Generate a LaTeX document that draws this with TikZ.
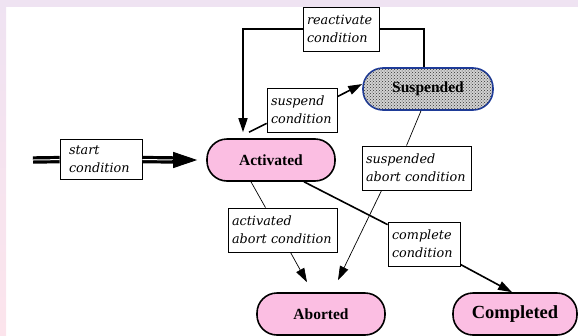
\documentclass[tikz,border=0pt]{standalone}
\usepackage{fontspec}
\setmainfont{Liberation Serif}
\newfontfamily\condfont{DejaVu Serif}
\usetikzlibrary{arrows.meta,patterns}
\definecolor{statepink}{RGB}{251,190,226}
\definecolor{suspblue}{RGB}{30,60,156}
\definecolor{bandtop}{RGB}{239,227,242}
\definecolor{bandbot}{RGB}{252,228,236}
\hyphenpenalty=10000

\begin{document}
\begin{tikzpicture}[x=1pt, y=-1pt,
    state/.style={draw, line width=1.6pt, rounded corners=20pt, fill=statepink,
        minimum height=42pt, inner sep=0pt, font=\bfseries\fontsize{15.5}{18}\selectfont},
    cond/.style={draw, fill=white, line width=0.8pt, align=left, inner xsep=4pt,
        inner ysep=3pt, minimum height=44pt,
        font=\condfont\itshape\fontsize{12.8}{18}\selectfont},
    heavy/.style={line width=1.6pt},
    light/.style={line width=0.7pt},
    tip/.style={-{Triangle[length=14pt,width=9pt]}},
    dbl/.style={double, line width=3.2pt, double distance=1pt}]
    \useasboundingbox (0,0) rectangle (578,335);
    \fill[bandtop] (0,0) rectangle (578,7);
    \shade[top color=bandtop, bottom color=bandbot] (0,0) rectangle (6,335);

    % states
    \node[state, minimum width=128pt] (act)  at (271,160) {Activated};
    \node[state, minimum width=130pt, draw=suspblue, fill=gray!35,
          postaction={pattern=crosshatch dots, pattern color=black!80}] (susp) at (428,89) {Suspended};
    \node[state, minimum width=128pt] (abo)  at (321,314) {Aborted};
    \node[state, minimum width=124pt, font=\bfseries\fontsize{18.5}{20}\selectfont] (comp) at (515,314) {Completed};

    % conditions
    \node[cond, text width=68pt] (react)    at (341,29)    {reactivate\\condition};
    \node[cond, text width=62pt] (suspcond) at (302,110)   {suspend\\condition};
    \node[cond, text width=64pt, inner xsep=9pt, minimum height=40pt] (startcond) at (101,159) {start\\condition};
    \node[cond, text width=101pt] (suspab)  at (416.5,168) {suspended\\abort condition};
    \node[cond, text width=101pt] (actab)   at (282.5,230) {activated\\abort condition};
    \node[cond, text width=64pt] (compcond) at (424,244)   {complete\\condition};

    \coordinate (src) at (33,160);
    \draw[dbl] (src) -- (startcond);
    \draw[dbl] (startcond) -- ([xshift=-30pt]act.west);
    \draw[line width=1pt, -{Triangle[length=24pt,width=16pt]}] ([xshift=-34pt]act.west) -- ([xshift=-9pt]act.west);

    \draw[heavy, tip] (react.west) -| ([xshift=-28pt,yshift=6pt]act.north);
    \draw[heavy] (react.east) -| ([xshift=-4pt]susp.north);

    \draw[heavy] ([xshift=-22pt,yshift=6pt]act.north) -- ([yshift=9pt]suspcond.south west);
    \draw[heavy, tip] ([yshift=-9pt]suspcond.north east) -- ([yshift=5pt]susp.west);

    \draw[light] ([xshift=-7pt]susp.south) -- ([xshift=-10pt]suspab.north);
    \draw[light, tip] ([xshift=20pt]suspab.south west) -- ([xshift=17pt,yshift=12pt]abo.north);

    \draw[light] ([xshift=-20pt]act.south) -- ([xshift=-17pt]actab.north);
    \draw[light, tip] ([xshift=8pt]actab.south) -- ([xshift=-14pt,yshift=10pt]abo.north);

    \draw[heavy] ([xshift=33pt]act.south) -- ([yshift=-3pt]compcond.north west);
    \draw[heavy, tip] ([yshift=2pt]compcond.south east) -- ([xshift=-3pt]comp.north);
\end{tikzpicture}
\end{document}
